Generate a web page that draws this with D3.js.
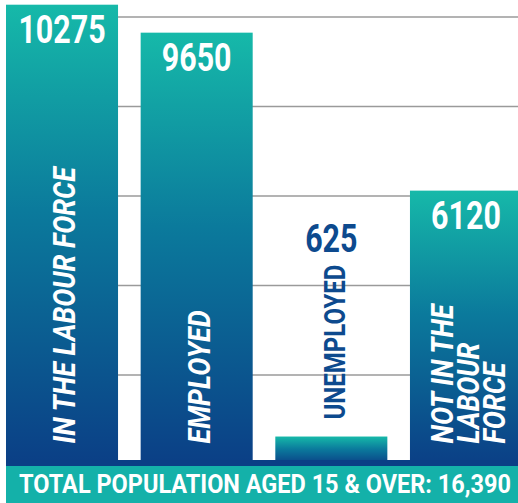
<!DOCTYPE html>
<html>
<head>
<meta charset="utf-8">
<script src="https://cdn.jsdelivr.net/npm/d3@7"></script>
<style>
  body { margin: 0; background: #fff; }
  svg { display: block; }
  text { font-family: "Roboto", "Liberation Sans", sans-serif; font-weight: 700; }
</style>
</head>
<body>
<div class="chart"></div>
<script>
// chart data
var categories = ["lf", "emp", "unemp", "nilf"];
var values = [10275, 9650, 625, 6120];
var labelLines = [
  ["IN THE LABOUR FORCE"],
  ["EMPLOYED"],
  ["UNEMPLOYED"],
  ["NOT IN THE", "LABOUR", "FORCE"]
];
var gridTicks = [2000, 4000, 6000, 8000, 10000];
var totalLabel = "TOTAL POPULATION AGED 15 & OVER: 16,390";

var svgWidth = 518;
var svgHeight = 503;
var squeeze = 0.8; // fake a condensed face

var svg = d3.select(".chart")
  .append("svg")
  .attr("width", svgWidth)
  .attr("height", svgHeight);

// vertical gradient used by every bar
var grad = svg.append("defs").append("linearGradient")
  .attr("id", "barGrad")
  .attr("x1", 0).attr("y1", 0).attr("x2", 0).attr("y2", 1);
grad.append("stop").attr("offset", "0%").attr("stop-color", "#16b9a9");
grad.append("stop").attr("offset", "45%").attr("stop-color", "#0b7a9c");
grad.append("stop").attr("offset", "100%").attr("stop-color", "#0b3f86");

var x = d3.scaleBand()
  .domain(categories)
  .range([6, 522])
  .paddingInner(0.168)
  .paddingOuter(0);

var y = d3.scaleLinear()
  .domain([0, 10000])
  .range([464.5, 17]);

// gridlines behind the bars
svg.append("g")
  .selectAll("line")
  .data(gridTicks)
  .enter().append("line")
  .attr("x1", 6)
  .attr("x2", svgWidth)
  .attr("y1", d => y(d))
  .attr("y2", d => y(d))
  .attr("stroke", "#9a9a9a")
  .attr("stroke-width", 1.5);

// bars
svg.append("g")
  .selectAll("rect")
  .data(values)
  .enter().append("rect")
  .attr("x", (d, i) => x(categories[i]))
  .attr("y", d => y(d))
  .attr("width", x.bandwidth())
  .attr("height", d => y(0) - y(d))
  .attr("fill", "url(#barGrad)");

// dark baseline strip + teal banner
svg.append("rect")
  .attr("x", 6).attr("y", y(0) - 4.5)
  .attr("width", svgWidth - 6).attr("height", 6)
  .attr("fill", "#0a3f85");

svg.append("rect")
  .attr("x", 6).attr("y", y(0) + 1.5)
  .attr("width", svgWidth - 6).attr("height", svgHeight - y(0))
  .attr("fill", "#14b1a9");

svg.append("text")
  .attr("transform", `translate(265, 493) scale(0.94, 1)`)
  .attr("text-anchor", "middle")
  .attr("font-size", 25)
  .attr("fill", "#fff")
  .text(totalLabel);

var insideLimit = 3000; // shorter bars get labels above them
var labels = svg.append("g");

values.forEach(function(v, i) {
  var cx = x(categories[i]) + x.bandwidth() / 2;
  var inside = v >= insideLimit;
  var lines = labelLines[i];
  var lineStep = 26;

  if (inside) {
    labels.append("text")
      .attr("transform", `translate(${cx}, ${y(v) + 38}) scale(${squeeze}, 1)`)
      .attr("text-anchor", "middle")
      .attr("font-size", 38)
      .attr("fill", "#fff")
      .text(d3.format("d")(v));

    lines.forEach(function(line, j) {
      var lx = cx + (j - (lines.length - 1) / 2) * lineStep + 2;
      labels.append("text")
        .attr("transform", `translate(${lx}, ${y(0) - 21}) rotate(-90) scale(0.87, 1)`)
        .attr("dy", "0.36em")
        .attr("font-size", 31)
        .attr("font-style", "italic")
        .attr("fill", "#fff")
        .text(line);
    });
  } else {
    var bottom = y(v) - 17;
    var cat = labels.append("text")
      .attr("transform", `translate(${cx + 3}, ${bottom}) rotate(-90) scale(${squeeze}, 1)`)
      .attr("dy", "0.36em")
      .attr("font-size", 30)
      .attr("fill", "#0d4a8e")
      .text(lines[0]);
    var len = cat.node().getComputedTextLength() * squeeze;

    labels.append("text")
      .attr("transform", `translate(${cx}, ${bottom - len - 13}) scale(${squeeze}, 1)`)
      .attr("text-anchor", "middle")
      .attr("font-size", 38)
      .attr("fill", "#0d4a8e")
      .text(d3.format("d")(v));
  }
});
</script>
</body>
</html>
